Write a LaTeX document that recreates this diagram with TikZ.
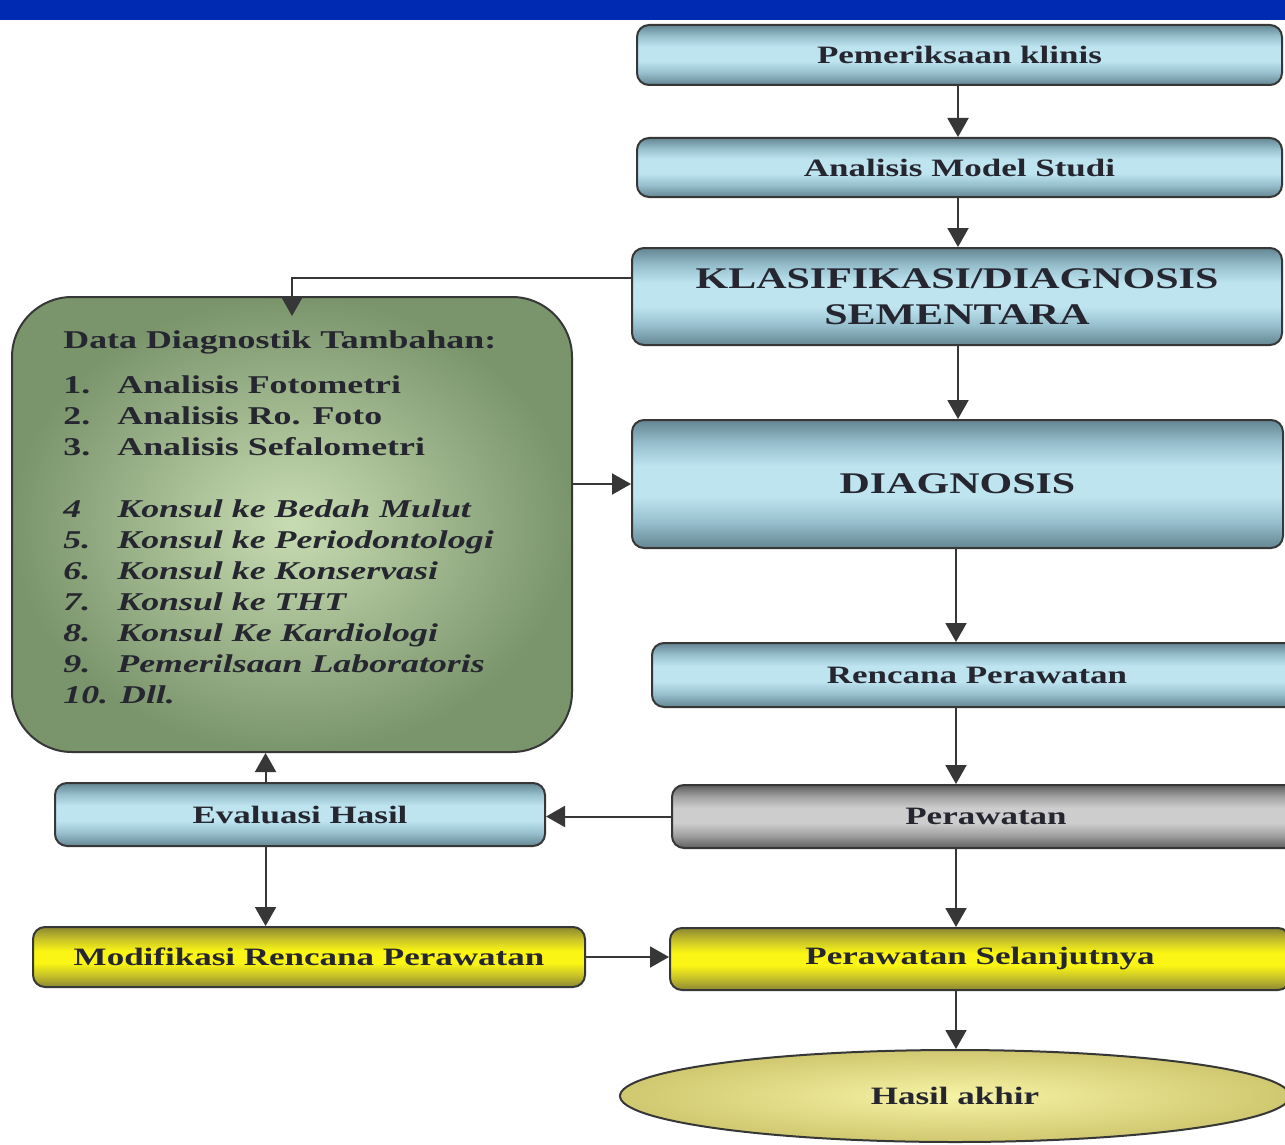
\documentclass[tikz,border=0pt]{standalone}
\usepackage{fontspec}
\setmainfont{Liberation Serif}[FakeStretch=1.4]
\usetikzlibrary{arrows.meta,shapes.geometric,calc}

\definecolor{topbar}{RGB}{0,42,178}
\definecolor{bD}{RGB}{100,134,146}
\definecolor{bM}{RGB}{150,190,204}
\definecolor{bL}{RGB}{190,228,240}
\definecolor{gD}{RGB}{95,95,95}
\definecolor{gM}{RGB}{160,160,160}
\definecolor{gL}{RGB}{205,205,205}
\definecolor{yD}{RGB}{140,135,50}
\definecolor{yM}{RGB}{200,195,40}
\definecolor{yL}{RGB}{250,245,20}
\definecolor{greenL}{RGB}{200,220,178}
\definecolor{greenD}{RGB}{122,148,108}
\definecolor{eL}{RGB}{246,243,165}
\definecolor{eD}{RGB}{208,200,112}
\definecolor{edge}{RGB}{55,55,55}
\definecolor{ink}{RGB}{38,38,48}

\pgfdeclareverticalshading{blueshade}{100bp}{color(0bp)=(bD); color(25bp)=(bD); color(35bp)=(bM); color(45bp)=(bL); color(57bp)=(bL); color(66bp)=(bM); color(75bp)=(bD); color(100bp)=(bD)}
\pgfdeclareverticalshading{greyshade}{100bp}{color(0bp)=(gD); color(25bp)=(gD); color(35bp)=(gM); color(45bp)=(gL); color(57bp)=(gL); color(66bp)=(gM); color(75bp)=(gD); color(100bp)=(gD)}
\pgfdeclareverticalshading{yellowshade}{100bp}{color(0bp)=(yD); color(25bp)=(yD); color(35bp)=(yM); color(45bp)=(yL); color(55bp)=(yL); color(65bp)=(yM); color(75bp)=(yD); color(100bp)=(yD)}

\newcommand{\dnum}[1]{\makebox[27pt][l]{#1}}

\tikzset{
  box/.style={draw=edge, line width=1pt, rounded corners=6pt, text=ink,
    font=\fontsize{12.5}{15}\selectfont\bfseries, align=center, inner sep=0pt},
  big/.style={font=\fontsize{15}{18}\selectfont\bfseries},
  bluebox/.style={box, shade, shading=blueshade},
  greybox/.style={box, shade, shading=greyshade},
  yellowbox/.style={box, shade, shading=yellowshade},
  databox/.style={draw=edge, line width=1pt, rounded corners=30pt, inner color=greenL, outer color=greenD},
  endbox/.style={ellipse, draw=edge, line width=1pt, inner color=eL, outer color=eD, text=ink,
    font=\fontsize{12.5}{15}\selectfont\bfseries, inner sep=0pt},
  arr/.style={draw=edge, line width=1pt, -{Triangle[length=9.5pt,width=10.5pt]}}
}

\begin{document}
\begin{tikzpicture}[x=0.5pt,y=-0.5pt]
\useasboundingbox (0,0) rectangle (1285,1145);
\clip (0,0) rectangle (1285,1145);
\fill[white] (0,0) rectangle (1285,1145);
\fill[topbar] (0,0) rectangle (1285,20);

% right column
\node[bluebox, minimum width=322.5pt, minimum height=30pt] (pem) at (959.5,55) {Pemeriksaan klinis};
\node[bluebox, minimum width=322.5pt, minimum height=29.5pt] (ams) at (959.5,167.5) {Analisis Model Studi};
\node[bluebox, big, minimum width=325pt, minimum height=48.5pt] (kla) at (957,296.5) {KLASIFIKASI/DIAGNOSIS\\SEMENTARA};
\node[bluebox, big, minimum width=325.5pt, minimum height=64pt] (dia) at (957.5,484) {DIAGNOSIS};
\node[bluebox, minimum width=325pt, minimum height=32pt] (ren) at (977,675) {Rencana Perawatan};
\node[greybox, minimum width=314pt, minimum height=31.5pt] (per) at (986,816.5) {Perawatan};
\node[yellowbox, minimum width=310pt, minimum height=31pt] (pse) at (980,959) {Perawatan Selanjutnya};
\node[endbox, minimum width=335pt, minimum height=46pt] (has) at (955,1096) {Hasil akhir};

% left column
\node[databox, minimum width=280pt, minimum height=227.5pt] (data) at (292,524.5) {};
\node[anchor=north west, align=left, inner sep=0pt, text=ink,
  font=\fontsize{12.8}{15.5}\selectfont\bfseries] (dtext) at (63,330) {%
Data Diagnostik Tambahan:\\[7pt]
\dnum{1.}Analisis Fotometri\\
\dnum{2.}Analisis Ro. Foto\\
\dnum{3.}Analisis Sefalometri\\[15.5pt]
\textit{\dnum{4}Konsul ke Bedah Mulut}\\
\textit{\dnum{5.}Konsul ke Periodontologi}\\
\textit{\dnum{6.}Konsul ke Konservasi}\\
\textit{\dnum{7.}Konsul ke THT}\\
\textit{\dnum{8.}Konsul Ke Kardiologi}\\
\textit{\dnum{9.}Pemerilsaan Laboratoris}\\
\textit{10. Dll.}};
\node[bluebox, minimum width=245pt, minimum height=31.5pt] (eva) at (300,814.5) {Evaluasi Hasil};
\node[yellowbox, minimum width=276pt, minimum height=30pt] (mod) at (309,957) {Modifikasi Rencana Perawatan};

% connectors
\coordinate (ct) at (958,0);
\coordinate (cx) at (956,0);
\draw[arr] (ct |- pem.south) -- (ct |- ams.north);
\draw[arr] (ct |- ams.south) -- (ct |- kla.north);
\draw[arr] ($(kla.north west)!0.31!(kla.south west)$) -| ($(data.north)+(0,20)$);
\draw[arr] (ct |- kla.south) -- (ct |- dia.north);
\draw[arr] (dia.west -| data.east) -- (dia.west);
\draw[arr] (cx |- dia.south) -- (cx |- ren.north);
\draw[arr] (cx |- ren.south) -- (cx |- per.north);
\draw[arr] (per.west) -- (per.west -| eva.east);
\draw[arr] (cx |- per.south) -- (cx |- pse.north);
\draw[arr] (cx |- pse.south) -- (has.north -| cx);
\coordinate (ex) at ($(eva.north west)!0.43!(eva.north east)$);
\draw[arr] (ex) -- (ex |- data.south);
\draw[arr] (ex |- eva.south) -- (ex |- mod.north);
\draw[arr] (mod.east) -- (mod.east -| pse.west);
\end{tikzpicture}
\end{document}
